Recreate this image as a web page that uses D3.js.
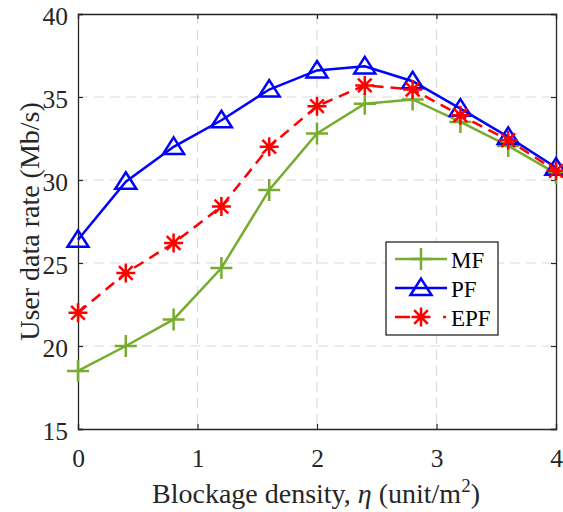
<!DOCTYPE html>
<html>
<head>
<meta charset="utf-8">
<script src="https://cdn.jsdelivr.net/npm/d3@7"></script>
<style>
  html, body { margin: 0; padding: 0; background: #fff; }
  svg { display: block; }
  svg text { font-family: "Liberation Serif", "Times New Roman", Times, "DejaVu Serif", serif !important; }
</style>
</head>
<body>
<svg id="chart" width="563" height="512"></svg>
<script>
// Blockage density η (unit/m²)
const density = [0, 0.4, 0.8, 1.2, 1.6, 2.0, 2.4, 2.8, 3.2, 3.6, 4.0];

// User data rate (Mb/s) for each scheme
const mfRate  = [18.5, 20.0, 21.6, 24.7, 29.4, 32.8, 34.6, 34.85, 33.5, 32.05, 30.4];
const pfRate  = [26.4, 29.9, 32.0, 33.6, 35.45, 36.6, 36.85, 35.95, 34.3, 32.6, 30.75];
const epfRate = [22.0, 24.4, 26.2, 28.4, 32.0, 34.45, 35.7, 35.45, 33.9, 32.4, 30.55];

const seriesNames = ["MF", "PF", "EPF"];

const xTicks = [0, 1, 2, 3, 4];
const yTicks = [15, 20, 25, 30, 35, 40];

const svg = d3.select("#chart");
const mLeft = 78, mRight = 556, mTop = 14, mBottom = 429;

const x = d3.scaleLinear().domain([0, 4]).range([mLeft, mRight]);
const y = d3.scaleLinear().domain([15, 40]).range([mBottom, mTop]);

const axisColor = "#262626";
const tickFont = 25.5;
const labelFont = 28;
const legendFont = 23;
const serifStack = "'Liberation Serif', 'Times New Roman', Times, 'DejaVu Serif', serif";

// dashed grid
const grid = svg.append("g");
grid.selectAll("line.gx").data(xTicks.slice(1, -1)).enter().append("line")
  .attr("x1", d => x(d)).attr("x2", d => x(d))
  .attr("y1", mTop).attr("y2", mBottom)
  .attr("stroke", "#dadada").attr("stroke-width", 1.2).attr("stroke-dasharray", "10,6");
grid.selectAll("line.gy").data(yTicks.slice(1, -1)).enter().append("line")
  .attr("x1", mLeft).attr("x2", mRight)
  .attr("y1", d => y(d)).attr("y2", d => y(d))
  .attr("stroke", "#dadada").attr("stroke-width", 1.2).attr("stroke-dasharray", "10,6");

// axes with inward ticks
const tickLen = 5;
const xAxisB = d3.axisBottom(x).tickValues(xTicks).tickSize(-tickLen).tickPadding(20).tickFormat(d3.format("d"));
const xAxisT = d3.axisTop(x).tickValues(xTicks).tickSize(-tickLen).tickFormat("");
const yAxisL = d3.axisLeft(y).tickValues(yTicks).tickSize(-tickLen).tickPadding(10).tickFormat(d3.format("d"));
const yAxisR = d3.axisRight(y).tickValues(yTicks).tickSize(-tickLen).tickFormat("");

function styleAxis(g) {
  g.attr("font-family", serifStack).attr("font-size", tickFont);
  g.select(".domain").attr("stroke", axisColor).attr("stroke-width", 1.3);
  g.selectAll(".tick line").attr("stroke", axisColor).attr("stroke-width", 1.2);
  g.selectAll(".tick text").attr("fill", axisColor);
}

svg.append("g").attr("transform", `translate(0,${mBottom})`).call(xAxisB).call(styleAxis);
svg.append("g").attr("transform", `translate(0,${mTop})`).call(xAxisT).call(styleAxis);
svg.append("g").attr("transform", `translate(${mLeft},0)`).call(yAxisL).call(styleAxis)
  .selectAll(".tick text").attr("dy", "0.4em");
svg.append("g").attr("transform", `translate(${mRight},0)`).call(yAxisR).call(styleAxis);

// axis titles
const xt = svg.append("text")
  .attr("x", 152).attr("y", 503)
  .attr("font-family", serifStack).attr("font-size", labelFont)
  .attr("fill", axisColor);
xt.append("tspan").text("Blockage density, ");
xt.append("tspan").attr("font-style", "italic").text("η");
xt.append("tspan").text(" (unit/m");
xt.append("tspan").attr("dy", -11).attr("font-size", 19).text("2");
xt.append("tspan").attr("dy", 11).text(")");

svg.append("text")
  .attr("transform", `translate(39,${(mTop + mBottom) / 2}) rotate(-90)`)
  .attr("text-anchor", "middle").attr("font-family", serifStack).attr("font-size", labelFont)
  .attr("fill", axisColor)
  .text("User data rate (Mb/s)");

// markers
function drawPlus(g, cx, cy, color, r) {
  g.append("path").attr("d", `M${cx - r},${cy}H${cx + r}M${cx},${cy - r}V${cy + r}`)
    .attr("stroke", color).attr("stroke-width", 2.5).attr("fill", "none");
}
function drawTri(g, cx, cy, color, r) {
  const h = r * 0.9;
  g.append("path").attr("d", `M${cx},${cy - h}L${cx + r},${cy + h * 0.75}L${cx - r},${cy + h * 0.75}Z`)
    .attr("stroke", color).attr("stroke-width", 2.5).attr("fill", "none").attr("stroke-linejoin", "miter");
}
function drawStar(g, cx, cy, color, r) {
  let d = `M${cx - r},${cy}H${cx + r}M${cx},${cy - r}V${cy + r}`;
  const k = r * 0.72;
  d += `M${cx - k},${cy - k}L${cx + k},${cy + k}M${cx - k},${cy + k}L${cx + k},${cy - k}`;
  g.append("path").attr("d", d)
    .attr("stroke", color).attr("stroke-width", 2.5).attr("fill", "none");
}

const series = [
  { name: seriesNames[0], values: mfRate,  color: "#77AC30", dash: null,    legendDash: null,            marker: drawPlus, r: 11 },
  { name: seriesNames[1], values: pfRate,  color: "#0000FF", dash: null,    legendDash: null,            marker: drawTri,  r: 10.5 },
  { name: seriesNames[2], values: epfRate, color: "#FF0000", dash: "11,7",  legendDash: "15,6,10,17,3", marker: drawStar, r: 9.5 }
];

const line = d3.line().x(d => x(d[0])).y(d => y(d[1]));
const plot = svg.append("g");

series.forEach(s => {
  const pts = density.map((d, i) => [d, s.values[i]]);
  plot.append("path").datum(pts).attr("d", line)
    .attr("fill", "none").attr("stroke", s.color).attr("stroke-width", 2.5)
    .attr("stroke-dasharray", s.dash);
  pts.forEach(p => s.marker(plot, x(p[0]), y(p[1]), s.color, s.r));
});

// legend
const lg = svg.append("g");
const lx0 = 386, ly0 = 242, lw = 112, lh = 93;
lg.append("rect").attr("x", lx0).attr("y", ly0).attr("width", lw).attr("height", lh)
  .attr("fill", "#fff").attr("stroke", axisColor).attr("stroke-width", 1.3);
const rowY = [259, 288, 317];
series.forEach((s, i) => {
  const cy = rowY[i];
  lg.append("line").attr("x1", 395).attr("x2", 447).attr("y1", cy).attr("y2", cy)
    .attr("stroke", s.color).attr("stroke-width", 2.5).attr("stroke-dasharray", s.legendDash);
  s.marker(lg, 421, cy, s.color, s.r);
  lg.append("text").attr("x", 451).attr("y", cy + 8.5)
    .attr("font-family", serifStack).attr("font-size", legendFont)
    .attr("fill", "#000").text(s.name);
});
</script>
</body>
</html>
